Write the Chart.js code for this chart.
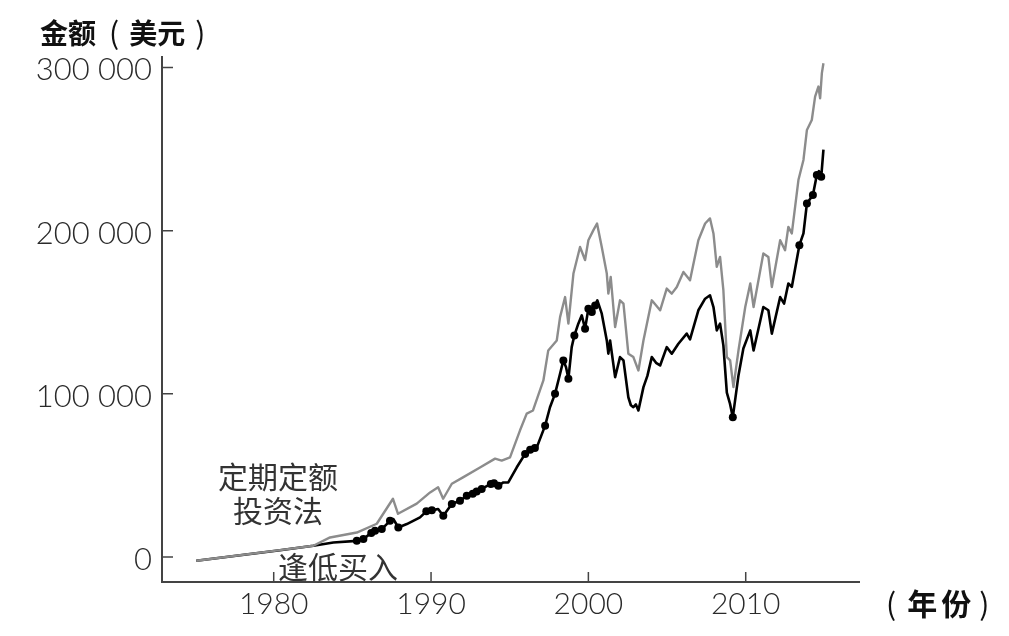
<!DOCTYPE html>
<html>
<head>
<meta charset="utf-8">
<script src="https://cdn.jsdelivr.net/npm/chart.js@4.4.1/dist/chart.umd.min.js"></script>
<style>
  html, body { margin: 0; padding: 0; background: #fff; }
  #wrap { position: relative; width: 1009px; height: 636px; }
  .lbl { position: absolute; font-family: "Noto Sans CJK SC", sans-serif; color: #222; white-space: nowrap; line-height: 1; }
  .axisTitle { font-size: 28px; font-weight: 700; color: #111; }
  .axisTitle .p { font-weight: 400; font-size: 30px; }
  .note { font-size: 30px; font-weight: 400; color: #333; }
</style>
</head>
<body>
<div id="wrap">
  <canvas id="chart" width="1009" height="636"></canvas>
  <div class="lbl axisTitle" style="left:40px; top:16px;">金额<span class="p" style="margin:0 10px 0 13px;">(</span>美元<span class="p" style="margin-left:10px;">)</span></div>
  <div class="lbl axisTitle" style="left:886px; top:587px; font-size:30px;"><span class="p" style="margin-right:11px;">(</span><span style="letter-spacing:4px;">年份</span><span class="p" style="margin-left:4px;">)</span></div>
  <div class="lbl note" style="left:208px; top:458px; width:140px; text-align:center; line-height:34px;">定期定额<br>投资法</div>
  <div class="lbl note" style="left:278px; top:550px;">逢低买入</div>
</div>
<script>
// Axis ticks
const xTickYears = [1980, 1990, 2000, 2010];
const yTickValues = [0, 100000, 200000, 300000];

// Dollar-cost averaging (gray line)
const dcaYears = [
  1975.08, 1980.40, 1982.52, 1983.58, 1985.28, 1986.55, 1987.58, 1987.90, 1989.09, 1989.94,
  1990.45, 1990.77, 1991.32, 1992.03, 1993.11, 1994.07, 1994.49, 1995.02, 1995.65, 1996.08,
  1996.48, 1997.14, 1997.45, 1997.99, 1998.20, 1998.52, 1998.73, 1999.05, 1999.47, 1999.79,
  2000.00, 2000.32, 2000.55, 2000.85, 2001.17, 2001.27, 2001.42, 2001.70, 2002.01, 2002.23,
  2002.54, 2002.86, 2003.18, 2003.50, 2004.03, 2004.56, 2004.98, 2005.30, 2005.62, 2006.04,
  2006.46, 2006.99, 2007.42, 2007.73, 2007.95, 2008.16, 2008.37, 2008.58, 2008.80, 2009.01,
  2009.22, 2009.54, 2009.97, 2010.29, 2010.50, 2011.12, 2011.44, 2011.66, 2012.19, 2012.50,
  2012.71, 2012.93, 2013.35, 2013.67, 2013.89, 2014.20, 2014.41, 2014.62, 2014.73, 2014.84,
  2014.94
];
const dcaValues = [
  -2300, 4200, 6900, 12000, 15000, 20400, 35700, 26500, 32700, 39600,
  42700, 35700, 44900, 48800, 54900, 60300, 59100, 61100, 77500, 87900,
  89800, 108200, 126600, 132700, 147000, 159300, 143000, 173700, 190000, 182000,
  194100, 200300, 204400, 190000, 173700, 161400, 171600, 140900, 157300, 155300,
  124600, 122500, 114300, 132700, 157300, 151200, 164500, 161400, 165500, 174700,
  169600, 194100, 204400, 207500, 198300, 177800, 183900, 163500, 122500, 120500,
  104100, 126600, 153200, 167600, 153200, 186000, 183900, 165500, 194100, 188000,
  202300, 198300, 231000, 243300, 261700, 267800, 282100, 288300, 281100, 296500,
  302600
];

// Buy-the-dip (black line)
const dipYears = [
  1975.08, 1980.40, 1982.52, 1983.79, 1985.28, 1985.70, 1986.20, 1986.44, 1986.87, 1987.39,
  1987.60, 1987.92, 1988.46, 1989.30, 1989.70, 1990.05, 1990.45, 1990.78, 1991.32, 1991.84,
  1992.27, 1992.65, 1992.90, 1993.22, 1993.80, 1994.00, 1994.28, 1994.60, 1994.91, 1995.45,
  1995.98, 1996.30, 1996.60, 1996.72, 1997.25, 1997.56, 1997.88, 1998.20, 1998.41, 1998.58,
  1998.73, 1998.94, 1999.11, 1999.36, 1999.58, 1999.79, 2000.00, 2000.22, 2000.43, 2000.57,
  2000.85, 2001.17, 2001.27, 2001.38, 2001.70, 2002.01, 2002.23, 2002.54, 2002.70, 2002.86,
  2003.02, 2003.18, 2003.50, 2003.75, 2004.03, 2004.30, 2004.56, 2004.98, 2005.30, 2005.72,
  2006.25, 2006.46, 2006.99, 2007.42, 2007.73, 2007.95, 2008.16, 2008.37, 2008.58, 2008.80,
  2009.00, 2009.18, 2009.54, 2009.85, 2010.29, 2010.50, 2011.12, 2011.44, 2011.66, 2012.19,
  2012.44, 2012.71, 2012.93, 2013.41, 2013.67, 2013.89, 2014.27, 2014.52, 2014.65, 2014.80,
  2014.94
];
const dipValues = [
  -2300, 4200, 6900, 8900, 9900, 11000, 14800, 16100, 17100, 22200,
  23300, 18100, 20200, 24300, 28000, 28600, 29400, 25300, 32500, 34500,
  37600, 38800, 40200, 41700, 44800, 45200, 43700, 45700, 45700, 55000,
  63200, 65800, 66800, 67200, 80500, 91800, 100000, 112300, 120500, 116300,
  109200, 128600, 135800, 143000, 148100, 139900, 152200, 150100, 154200, 157300,
  149100, 132700, 124600, 132700, 110200, 122500, 120500, 97900, 93000, 91800,
  93500, 89800, 104100, 111000, 122500, 119000, 117400, 128600, 124600, 130700,
  136900, 133400, 151200, 158300, 160400, 153200, 138900, 143000, 129700, 100800,
  94000, 85700, 111300, 127800, 138900, 126600, 153200, 151200, 136900, 159300,
  155300, 167600, 165500, 191100, 198300, 216700, 221800, 234100, 236500, 233000,
  249600
];

// Buy points of the buy-the-dip strategy (dots)
const buyYears = [
  1985.28, 1985.70, 1986.20, 1986.44, 1986.87, 1987.39, 1987.92, 1989.70, 1990.05, 1990.78,
  1991.32, 1991.84, 1992.27, 1992.65, 1992.90, 1993.22, 1993.80, 1994.00, 1994.28, 1995.98,
  1996.30, 1996.60, 1997.25, 1997.88, 1998.41, 1998.73, 1999.11, 1999.79, 2000.00, 2000.22,
  2000.43, 2009.18, 2013.41, 2013.89, 2014.27, 2014.52, 2014.80
];
const buyValues = [
  9900, 11000, 14800, 16100, 17100, 22200, 18100, 28000, 28600, 25300,
  32500, 34500, 37600, 38800, 40200, 41700, 44800, 45200, 43700, 63200,
  65800, 66800, 80500, 100000, 120500, 109200, 135800, 139900, 152200, 150100,
  154200, 85700, 191100, 216700, 221800, 234100, 233000
];

const AXIS = '#444';
const toXY = (xs, ys) => xs.map((x, i) => ({ x: x, y: ys[i] }));
const spaced = v => String(v).replace(/\B(?=(\d{3})+(?!\d))/g, ' ');

// ticks pointing into the plot area
const insideTicks = {
  id: 'insideTicks',
  afterDraw(chart) {
    const { ctx, chartArea, scales } = chart;
    ctx.save();
    ctx.strokeStyle = AXIS;
    ctx.lineWidth = 1.5;
    ctx.beginPath();
    scales.y.ticks.forEach(t => {
      const py = scales.y.getPixelForValue(t.value);
      ctx.moveTo(chartArea.left, py);
      ctx.lineTo(chartArea.left + 11, py);
    });
    scales.x.ticks.forEach(t => {
      const px = scales.x.getPixelForValue(t.value);
      ctx.moveTo(px, chartArea.bottom);
      ctx.lineTo(px, chartArea.bottom - 10);
    });
    ctx.stroke();
    ctx.restore();
  }
};

new Chart(document.getElementById('chart'), {
  type: 'line',
  data: {
    datasets: [
      {
        label: '买入点',
        data: toXY(buyYears, buyValues),
        showLine: false,
        pointRadius: 4,
        pointBackgroundColor: '#000',
        pointBorderWidth: 0,
        order: 0
      },
      {
        label: '逢低买入',
        data: toXY(dipYears, dipValues),
        borderColor: '#000',
        borderWidth: 2.6,
        pointRadius: 0,
        tension: 0,
        borderJoinStyle: 'round',
        order: 2
      },
      {
        label: '定期定额投资法',
        data: toXY(dcaYears, dcaValues),
        borderColor: '#8c8c8c',
        borderWidth: 2.4,
        pointRadius: 0,
        tension: 0,
        borderJoinStyle: 'round',
        order: 1
      }
    ]
  },
  options: {
    responsive: false,
    animation: false,
    devicePixelRatio: 1,
    layout: { padding: { top: 57, right: 150, left: 0, bottom: 0 } },
    plugins: { legend: { display: false }, tooltip: { enabled: false } },
    scales: {
      x: {
        type: 'linear',
        min: 1972.9,
        max: 2017.2,
        afterBuildTicks: s => { s.ticks = xTickYears.map(v => ({ value: v })); },
        afterFit: s => { s.height = 54; },
        grid: { display: false, drawTicks: false },
        border: { display: true, color: AXIS, width: 2 },
        ticks: {
          padding: 4,
          color: '#2a2a2a',
          font: { family: 'Lato', weight: 300, size: 30 },
          callback: v => String(v)
        }
      },
      y: {
        type: 'linear',
        min: -15300,
        max: 306400,
        afterBuildTicks: s => { s.ticks = yTickValues.map(v => ({ value: v })); },
        afterFit: s => { s.width = 162; },
        grid: { display: false, drawTicks: false },
        border: { display: true, color: AXIS, width: 2 },
        ticks: {
          padding: 10,
          labelOffset: 3,
          color: '#2a2a2a',
          font: { family: 'Lato', weight: 300, size: 31 },
          callback: v => spaced(v)
        }
      }
    }
  },
  plugins: [insideTicks]
});
</script>
</body>
</html>
